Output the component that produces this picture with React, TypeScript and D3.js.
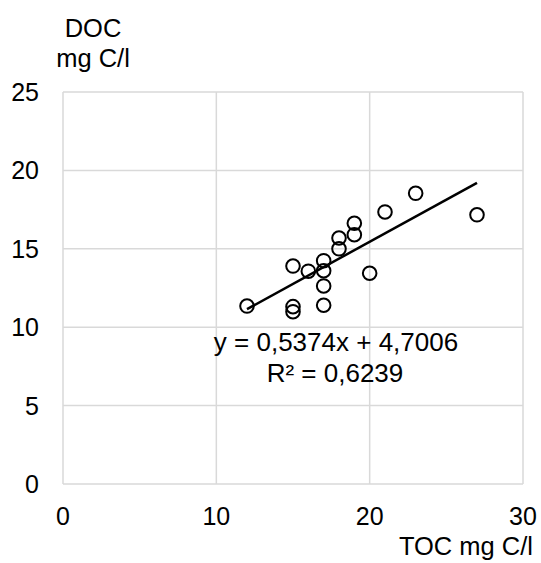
import React from 'react';
import * as d3 from 'd3';

// TOC (x) vs DOC (y), mg C/l
const tocValues = [12, 15, 15, 15, 16, 17, 17, 17, 17, 18, 18, 19, 19, 20, 21, 23, 27];
const docValues = [11.35, 13.9, 11.31, 10.99, 13.57, 14.24, 13.6, 12.63, 11.4, 15.69, 15.0, 16.63, 15.9, 13.44, 17.35, 18.54, 17.17];

const xTicks = [0, 10, 20, 30];
const yTicks = [0, 5, 10, 15, 20, 25];

const slope = 0.5374;
const intercept = 4.7006;
const eqLabel = 'y = 0,5374x + 4,7006';
const r2Label = 'R² = 0,6239';

const W = 541;
const H = 563;
const font = '"Liberation Sans", Arial, sans-serif';

const App = () => {
  const x = d3.scaleLinear().domain([0, 30]).range([63, 523]);
  const y = d3.scaleLinear().domain([0, 25]).range([484, 92]);

  const trend = d3.line<number>()
    .x((d) => x(d))
    .y((d) => y(slope * d + intercept));
  const xExtent = d3.extent(tocValues) as [number, number];

  return (
    <svg width={W} height={H} style={{ position: 'absolute', left: 0, top: 0 }} fontFamily={font}>
      <rect width={W} height={H} fill="#fff" />
      {/* grid */}
      {xTicks.map((t) => (
        <line key={'gx' + t} x1={x(t)} x2={x(t)} y1={y(0)} y2={y(25)} stroke="#d9d9d9" strokeWidth={1.5} />
      ))}
      {yTicks.map((t) => (
        <line key={'gy' + t} x1={x(0)} x2={x(30)} y1={y(t)} y2={y(t)} stroke="#d9d9d9" strokeWidth={1.5} />
      ))}

      {/* tick labels */}
      {yTicks.map((t) => (
        <text key={'ty' + t} x={39} y={y(t) + 9} textAnchor="end" fontSize={25} fill="#000">{t}</text>
      ))}
      {xTicks.map((t) => (
        <text key={'tx' + t} x={x(t)} y={525} textAnchor="middle" fontSize={25} fill="#000">{t}</text>
      ))}

      {/* axis titles */}
      <text x={93} y={37} textAnchor="middle" fontSize={25.5}>DOC</text>
      <text x={93} y={67} textAnchor="middle" fontSize={25.5}>mg C/l</text>
      <text x={533} y={555} textAnchor="end" fontSize={25.5}>TOC mg C/l</text>

      {/* trendline */}
      <path d={trend(xExtent) || ''} fill="none" stroke="#000" strokeWidth={2.5} />

      {/* points */}
      {tocValues.map((v, i) => (
        <circle key={i} cx={x(v)} cy={y(docValues[i])} r={6.8} fill="none" stroke="#000" strokeWidth={2} />
      ))}

      {/* equation */}
      <text x={336} y={351} textAnchor="middle" fontSize={26}>{eqLabel}</text>
      <text x={335} y={382} textAnchor="middle" fontSize={26}>{r2Label}</text>
    </svg>
  );
};

export default App;
